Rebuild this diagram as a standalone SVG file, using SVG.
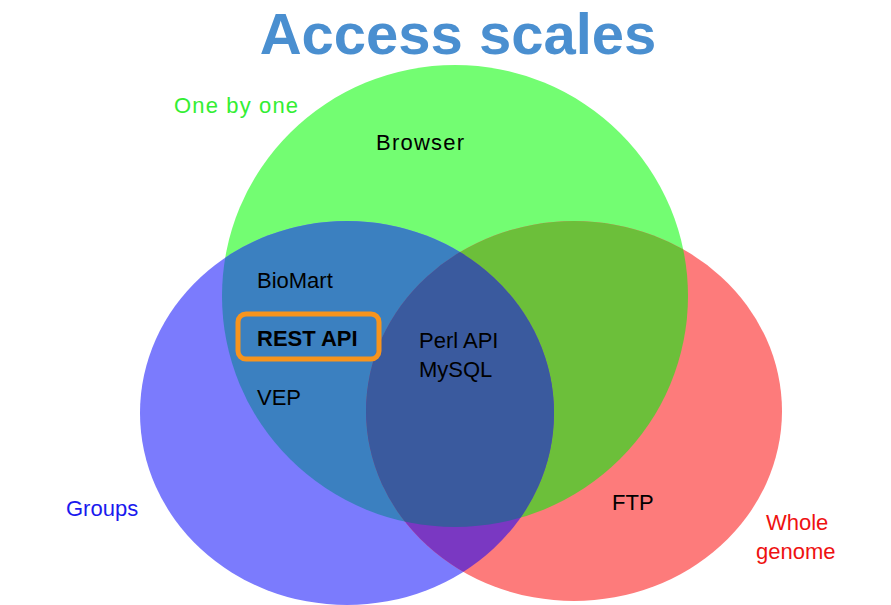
<svg xmlns="http://www.w3.org/2000/svg" width="891" height="605" viewBox="0 0 891 605">
<style>
text{font-family:"Helvetica","Liberation Sans",Arial,sans-serif;font-size:22px;fill:#000}
.t{font-size:58px;font-weight:bold;fill:#4a8fd0}
</style>
<defs>
<clipPath id="cg"><ellipse cx="455" cy="296" rx="233" ry="231"/></clipPath>
<clipPath id="cb"><ellipse cx="347" cy="413" rx="207" ry="192"/></clipPath>
<clipPath id="cr"><ellipse cx="574" cy="411" rx="208" ry="190"/></clipPath>
</defs>
<rect width="891" height="605" fill="#fff"/>
<g id="circles">
<ellipse id="green" cx="455" cy="296" rx="233" ry="231" fill="#73fd72"/>
<ellipse id="blue" cx="347" cy="413" rx="207" ry="192" fill="#7b7bfd"/>
<ellipse id="red" cx="574" cy="411" rx="208" ry="190" fill="#fd7b7b"/>
<g clip-path="url(#cg)"><ellipse cx="347" cy="413" rx="207" ry="192" fill="#3b80c0"/><ellipse cx="574" cy="411" rx="208" ry="190" fill="#6cbf3a"/></g>
<g clip-path="url(#cb)"><ellipse cx="574" cy="411" rx="208" ry="190" fill="#7a38c2"/></g>
<g clip-path="url(#cg)"><g clip-path="url(#cb)"><ellipse cx="574" cy="411" rx="208" ry="190" fill="#3a5a9e"/></g></g>
</g>
<text class="t" x="458" y="54" text-anchor="middle">Access scales</text>
<text x="174" y="113" style="fill:#33ee33" textLength="124">One by one</text>
<text x="376" y="150" textLength="88">Browser</text>
<text x="257" y="288">BioMart</text>
<g id="rest"><rect x="238" y="314" width="141" height="45" rx="8" fill="none" stroke="#f7941d" stroke-width="5"/>
<text x="257" y="346" style="font-weight:bold">REST API</text></g>
<text x="257" y="405">VEP</text>
<text x="419" y="348">Perl API</text>
<text x="419" y="377">MySQL</text>
<text x="66" y="516" style="fill:#1a1aee">Groups</text>
<text x="612" y="510">FTP</text>
<text x="766" y="530" style="fill:#ee1111">Whole</text>
<text x="756" y="559" style="fill:#ee1111">genome</text>
</svg>
